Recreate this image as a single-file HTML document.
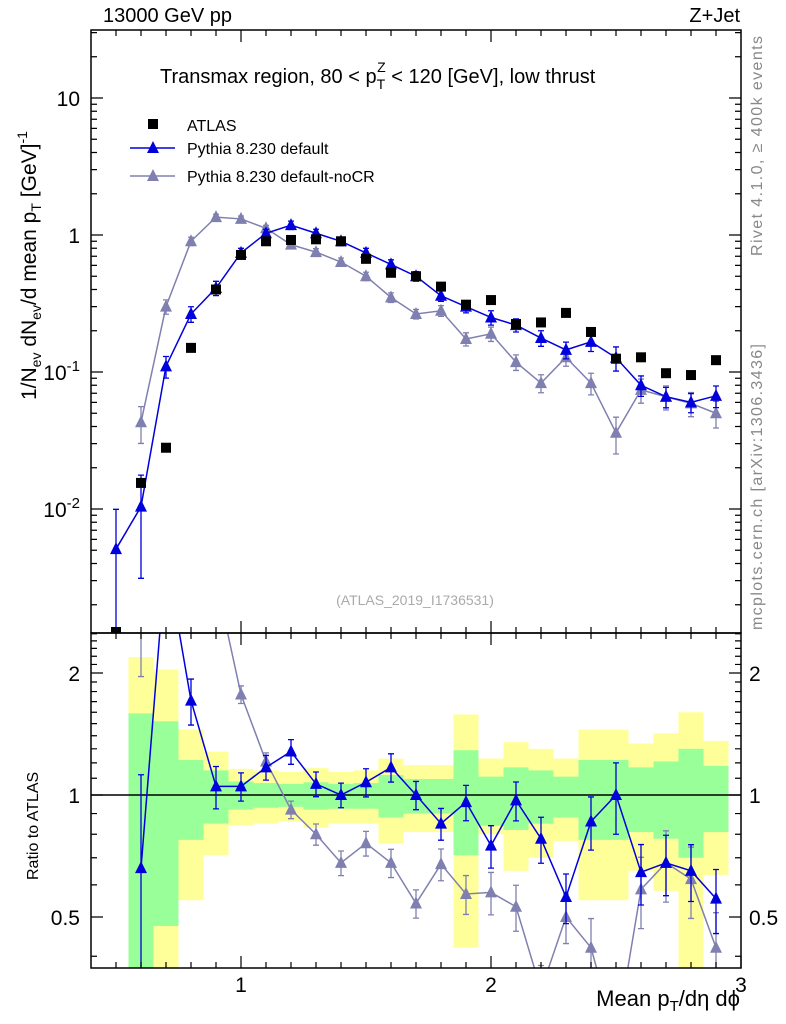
<!DOCTYPE html>
<html><head><meta charset="utf-8"><style>
html,body{margin:0;background:#fff;width:786px;height:1024px;overflow:hidden;position:relative}
svg{font-family:"Liberation Sans",sans-serif;display:block}
</style></head><body>
<svg id="c" width="786" height="1024" style="position:absolute;left:0;top:0" xmlns="http://www.w3.org/2000/svg"></svg>
<script>
const xs=[0.5,0.6,0.7,0.8,0.9,1.0,1.1,1.2,1.3,1.4,1.5,1.6,1.7,1.8,1.9,2.0,2.1,2.2,2.3,2.4,2.5,2.6,2.7,2.8,2.9];
const atlas=[0.0005,0.0155,0.028,0.15,0.40,0.715,0.90,0.92,0.93,0.90,0.67,0.53,0.50,0.42,0.31,0.335,0.224,0.23,0.27,0.196,0.125,0.128,0.098,0.095,0.122];
const pyDef=[0.0051,0.0104,0.110,0.265,0.41,0.74,1.03,1.18,1.03,0.90,0.74,0.61,0.50,0.36,0.30,0.25,0.22,0.177,0.145,0.166,0.127,0.080,0.066,0.060,0.067];
const pyNoCR=[null,0.043,0.30,0.90,1.35,1.31,1.12,0.85,0.75,0.635,0.50,0.35,0.265,0.28,0.174,0.19,0.118,0.083,0.128,0.083,0.036,0.074,0.066,0.059,0.050];
const errDef=[0.95,0.7,0.18,0.13,0.12,0.08,0.07,0.07,0.07,0.07,0.08,0.08,0.08,0.09,0.1,0.12,0.11,0.13,0.14,0.15,0.2,0.17,0.17,0.16,0.18];
const errNoCR=[0,0.3,0.12,0.07,0.05,0.05,0.05,0.05,0.06,0.07,0.07,0.08,0.08,0.09,0.11,0.12,0.13,0.15,0.14,0.18,0.3,0.2,0.2,0.2,0.22];
const rDef=[null,0.66,3.9,1.71,1.05,1.05,1.17,1.28,1.065,1.0,1.075,1.17,1.0,0.85,0.96,0.75,0.97,0.78,0.56,0.86,1.0,0.645,0.68,0.65,0.555];
const rNoCR=[null,2.8,10.7,6.0,3.4,1.77,1.21,0.92,0.80,0.68,0.76,0.68,0.54,0.675,0.57,0.575,0.53,0.33,0.50,0.42,0.25,0.585,0.68,0.62,0.42];
const bandX=[0.6,0.7,0.8,0.9,1.0,1.1,1.2,1.3,1.4,1.5,1.6,1.7,1.8,1.9,2.0,2.1,2.2,2.3,2.4,2.5,2.6,2.7,2.8,2.9];
const yelHi=[2.19,2.04,1.45,1.28,1.16,1.15,1.14,1.165,1.14,1.15,1.23,1.185,1.185,1.58,1.23,1.35,1.30,1.23,1.45,1.45,1.34,1.42,1.60,1.36];
const yelLo=[0.3,0.3,0.55,0.71,0.84,0.85,0.86,0.83,0.85,0.85,0.76,0.81,0.81,0.42,0.80,0.65,0.70,0.77,0.55,0.55,0.65,0.58,0.3,0.635];
const grnHi=[1.59,1.52,1.22,1.15,1.08,1.07,1.065,1.075,1.065,1.07,1.12,1.095,1.095,1.29,1.11,1.17,1.15,1.11,1.22,1.22,1.17,1.21,1.30,1.18];
const grnLo=[0.3,0.475,0.775,0.85,0.92,0.93,0.935,0.92,0.925,0.925,0.88,0.90,0.90,0.71,0.84,0.82,0.85,0.88,0.775,0.775,0.81,0.78,0.70,0.81];
const xTicks=[1,2,3];
const yTicks=[10,1,0.1,0.01];
const yTickLab=["10","1","10^-1","10^-2"];
const rTicks=[2,1,0.5];
const rTickLab=["2","1","0.5"];

const L=91,R=741,T=30,M=633,B=968;
const X=v=>L+(v-0.4)/2.6*(R-L);
const Y=v=>235-Math.log10(v)*137;
const RY=v=>795-Math.log2(v)*122;
const svg=document.getElementById('c');
const NS='http://www.w3.org/2000/svg';
function mk(t,a,p){const e=document.createElementNS(NS,t);for(const k in a)e.setAttribute(k,a[k]);(p||svg).appendChild(e);return e;}
function txt(x,y,s,o){const e=mk('text',Object.assign({x:x,y:y,'font-size':20,fill:'#000'},o||{}));e.textContent=s;return e;}

const defs=mk('defs',{});
const c1=mk('clipPath',{id:'cm'},defs);mk('rect',{x:L,y:T,width:R-L,height:M-T},c1);
const c2=mk('clipPath',{id:'cr'},defs);mk('rect',{x:L,y:M,width:R-L,height:B-M},c2);

const gB=mk('g',{'clip-path':'url(#cr)'});

bandX.forEach((b,i)=>{
 const x0=X(b-0.05),x1=X(b+0.05);
 const y=mk('rect',{x:x0,y:RY(yelHi[i]),width:x1-x0,height:RY(yelLo[i])-RY(yelHi[i]),fill:'#ffff99'},gB);
 
 const g=mk('rect',{x:x0,y:RY(grnHi[i]),width:x1-x0,height:RY(grnLo[i])-RY(grnHi[i]),fill:'#99ff99'},gB);
 
});
mk('line',{x1:L,x2:R,y1:RY(1),y2:RY(1),stroke:'#000','stroke-width':1.5});

function tri(g,x,y,c){const t=mk('path',{d:`M${x-6},${y+5}L${x+6},${y+5}L${x},${y-7}Z`,fill:c},g);}
function series(vals,errs,Yf,clip,c,name){
 const g=mk('g',{'clip-path':clip});
 
 let d='';xs.forEach((x,i)=>{const v=vals[i];if(v==null)return;d+=(d?'L':'M')+X(x)+','+Yf(v);});
 mk('path',{d:d,fill:'none',stroke:c,'stroke-width':1.5},g);
 xs.forEach((x,i)=>{const v=vals[i];if(v==null)return;const e=errs[i];
  const hi=Yf(v*(1+e)),lo=Yf(Math.max(v*(1-e),1e-6));
  mk('path',{d:`M${X(x)},${hi}V${lo}M${X(x)-3},${hi}h6M${X(x)-3},${lo}h6`,stroke:c,'stroke-width':1.3,fill:'none'},g);
  tri(g,X(x),Yf(v),c);});
}
series(rNoCR,errNoCR,RY,'url(#cr)','#8080b0','ratio-noCR');
series(rDef,errDef,RY,'url(#cr)','#0000dd','ratio-default');
series(pyNoCR,errNoCR,Y,'url(#cm)','#8080b0','series-noCR');
series(pyDef,errDef,Y,'url(#cm)','#0000dd','series-default');
const gA=mk('g',{'clip-path':'url(#cm)'});

xs.forEach((x,i)=>{const yy=Math.min(Math.max(Y(atlas[i]),T),M-1);const r=mk('rect',{x:X(x)-5,y:yy-5,width:10,height:10,fill:'#000'},gA);});

mk('rect',{x:L,y:T,width:R-L,height:M-T,fill:'none',stroke:'#000','stroke-width':1.5});
mk('rect',{x:L,y:M,width:R-L,height:B-M,fill:'none',stroke:'#000','stroke-width':1.5});
let tk='';
for(let k=5;k<=29;k++){const v=k/10,x=X(v),maj=(k%10==0),l=maj?12:6;
 tk+=`M${x},${M}v${-l}M${x},${T}v${l}M${x},${B}v${-l}M${x},${M}v${l}`;}
tk+=`M${X(3)},${B}v-12`;
for(let e=-3;e<=1;e++)for(let m=1;m<10;m++){const v=m*Math.pow(10,e),y=Y(v);if(y<T||y>M)continue;const l=m==1?12:6;tk+=`M${L},${y}h${l}M${R},${y}h${-l}`;}
for(const v of [0.4,0.5,0.6,0.7,0.8,0.9,1,1.1,1.2,1.3,1.4,1.5,1.6,1.7,1.8,1.9,2,2.1,2.2,2.3,2.4,2.5]){const y=RY(v);if(y<M||y>B)continue;const l=(v==0.5||v==1||v==2)?12:6;tk+=`M${L},${y}h${l}M${R},${y}h${-l}`;}
mk('path',{d:tk,stroke:'#000','stroke-width':1.2,fill:'none'});

xTicks.forEach(v=>{const t=txt(X(v),992,String(v),{'text-anchor':'middle','font-size':21});});
yTicks.forEach((v,i)=>{const s=yTickLab[i];let t;
 if(s.includes('^')){const p=s.split('^');t=txt(80,Y(v)+8,'',{'text-anchor':'end','font-size':21});
  const a=mk('tspan',{},t);a.textContent=p[0];const b=mk('tspan',{dy:-9,'font-size':15},t);b.textContent=p[1];}
 else t=txt(80,Y(v)+8,s,{'text-anchor':'end','font-size':21});
 });
rTicks.forEach((v,i)=>{const t=txt(80,RY(v)+8,rTickLab[i],{'text-anchor':'end','font-size':21});
 const t2=txt(749,RY(v)+8,rTickLab[i],{'font-size':21});});
</script>
<svg width="786" height="1024" style="position:absolute;left:0;top:0" font-family="Liberation Sans, sans-serif">
<text x="103" y="22" font-size="20">13000 GeV pp</text>
<text x="740" y="22" font-size="20" text-anchor="end">Z+Jet</text>
<text x="160" y="83" font-size="20">Transmax region, 80 &lt; p<tspan font-size="14" dy="6">T</tspan><tspan font-size="14" dx="-8" dy="-17">Z</tspan><tspan dy="11"> &lt; 120 [GeV], low thrust</tspan></text>
<rect x="148" y="119" width="10" height="10" fill="#000"/>
<text x="187" y="131" font-size="16">ATLAS</text>
<line x1="130" x2="175" y1="148" y2="148" stroke="#0000dd" stroke-width="1.5"/>
<path d="M147,153L159,153L153,141Z" fill="#0000dd"/>
<text x="187" y="154" font-size="16">Pythia 8.230 default</text>
<line x1="130" x2="175" y1="176" y2="176" stroke="#8080b0" stroke-width="1.5"/>
<path d="M147,181L159,181L153,169Z" fill="#8080b0"/>
<text x="187" y="182" font-size="16">Pythia 8.230 default-noCR</text>
<text x="415" y="605" font-size="14" fill="#aaa" text-anchor="middle">(ATLAS_2019_I1736531)</text>
<text transform="translate(762,256) rotate(-90)" font-size="16" fill="#888" textLength="220">Rivet 4.1.0, ≥ 400k events</text>
<text transform="translate(762,630) rotate(-90)" font-size="16" fill="#888" textLength="286">mcplots.cern.ch [arXiv:1306.3436]</text>
<text transform="translate(36,400) rotate(-90)" font-size="21">1/N<tspan font-size="14" dy="5">ev</tspan><tspan dy="-5"> dN</tspan><tspan font-size="14" dy="5">ev</tspan><tspan dy="-5">/d mean p</tspan><tspan font-size="14" dy="5">T</tspan><tspan dy="-5"> [GeV]</tspan><tspan font-size="14" dy="-9">-1</tspan></text>
<text transform="translate(38,880) rotate(-90)" font-size="16">Ratio to ATLAS</text>
<text x="740" y="1006" font-size="22" text-anchor="end">Mean p<tspan font-size="15" dy="5">T</tspan><tspan dy="-5">/dη dϕ</tspan></text>
</svg>
</body></html>
